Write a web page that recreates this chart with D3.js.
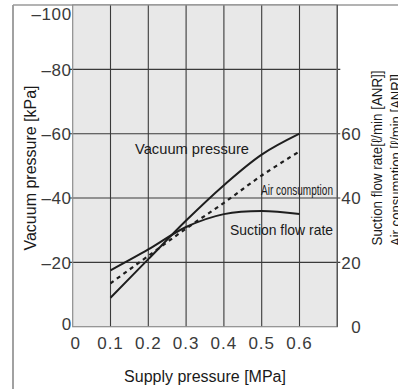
<!DOCTYPE html>
<html>
<head>
<meta charset="utf-8">
<script src="https://cdn.jsdelivr.net/npm/d3@7"></script>
<style>
  body { margin: 0; background: #fff; }
  text { font-family: "Liberation Sans", Arial, Helvetica, sans-serif; }
</style>
</head>
<body>
<div id="chart"></div>
<script>
var WIDTH = 398;
var HEIGHT = 389;

// supply pressure [MPa]
var supply = [0.1, 0.2, 0.3, 0.4, 0.5, 0.6];
// vacuum pressure [kPa] (plotted as negative)
var vacuum = [-9, -21, -33, -44, -53.5, -60];
// suction flow rate [l/min ANR]
var suction = [17.5, 24, 31, 35, 36, 35];
// air consumption [l/min ANR]
var airCons = [13.5, 22, 30.5, 38.5, 47, 54.5];

var xTicks = [0, 0.1, 0.2, 0.3, 0.4, 0.5, 0.6];
var yTicks = [0, -20, -40, -60, -80, -100];
var rightTicks = [0, 20, 40, 60];

var margin = {left: 72.7, right: 60.7, top: 5, bottom: 62.3};

var svg = d3.select("#chart").append("svg")
  .attr("width", WIDTH)
  .attr("height", HEIGHT);

var x = d3.scaleLinear().domain([0, 0.7]).range([margin.left, WIDTH - margin.right]);
var y = d3.scaleLinear().domain([0, -100]).range([HEIGHT - margin.bottom, margin.top]);
// right axis shares the grid lines of the left one
var yR = d3.scaleLinear().domain([0, 100]).range([HEIGHT - margin.bottom, margin.top]);

// outer frame of the figure
svg.append("line").attr("x1", 13).attr("x2", 13).attr("y1", 5).attr("y2", HEIGHT)
  .attr("stroke", "#8a8a8a").attr("stroke-width", 1.6);
svg.append("line").attr("x1", 13).attr("x2", WIDTH).attr("y1", 5).attr("y2", 5)
  .attr("stroke", "#9a9a9a").attr("stroke-width", 1.4);

// plot background
svg.append("rect")
  .attr("x", x(0)).attr("y", y(-100))
  .attr("width", x(0.7) - x(0)).attr("height", y(0) - y(-100))
  .attr("fill", "#e8e8e8");

// grid
svg.append("g").selectAll("line")
  .data(xTicks.slice(1))
  .enter().append("line")
  .attr("x1", d => x(d)).attr("x2", d => x(d))
  .attr("y1", y(-100)).attr("y2", y(0))
  .attr("stroke", "#3a3a3a").attr("stroke-width", 1.1);

svg.append("g").selectAll("line")
  .data(yTicks.slice(1, 5))
  .enter().append("line")
  .attr("x1", x(0) - 3).attr("x2", x(0.7) + 3)
  .attr("y1", d => y(d)).attr("y2", d => y(d))
  .attr("stroke", "#3a3a3a").attr("stroke-width", 1.1);

// plot border
svg.append("rect")
  .attr("x", x(0)).attr("y", y(-100))
  .attr("width", x(0.7) - x(0)).attr("height", y(0) - y(-100))
  .attr("fill", "none").attr("stroke", "#8c8c8c").attr("stroke-width", 1.2);
svg.append("line")
  .attr("x1", x(0.7)).attr("x2", x(0.7)).attr("y1", y(-100)).attr("y2", y(0))
  .attr("stroke", "#555").attr("stroke-width", 1.4);

// left tick labels
svg.append("g").selectAll("text")
  .data(yTicks)
  .enter().append("text")
  .attr("x", x(0) - 1)
  .attr("y", d => y(d))
  .attr("dy", d => d === -100 ? "0.9em" : (d === 0 ? "0.2em" : "0.38em"))
  .attr("text-anchor", "end")
  .attr("font-size", 17)
  .attr("letter-spacing", 0.6)
  .attr("fill", "#3a3a3a")
  .text(d => d === 0 ? "0" : "\u2013" + Math.abs(d));

// right tick labels
svg.append("g").selectAll("text")
  .data(rightTicks)
  .enter().append("text")
  .attr("x", x(0.7) + 24)
  .attr("y", d => yR(d))
  .attr("dy", d => d === 0 ? "0.35em" : "0.38em")
  .attr("text-anchor", "end")
  .attr("font-size", 17)
  .attr("letter-spacing", 0.6)
  .attr("fill", "#3a3a3a")
  .text(d => d);

// x tick labels
svg.append("g").selectAll("text")
  .data(xTicks)
  .enter().append("text")
  .attr("x", d => x(d) + (d === 0 ? 3 : 0))
  .attr("y", 349)
  .attr("text-anchor", "middle")
  .attr("font-size", 17)
  .attr("letter-spacing", 1)
  .attr("fill", "#3a3a3a")
  .text(d => d === 0 ? "0" : d3.format(".1f")(d));

// curves
var line = d3.line().curve(d3.curveCatmullRom.alpha(0.5));

svg.append("path")
  .attr("d", line(supply.map((s, i) => [x(s), y(vacuum[i])])))
  .attr("fill", "none").attr("stroke", "#1e1e1e").attr("stroke-width", 2);

svg.append("path")
  .attr("d", line(supply.map((s, i) => [x(s), yR(suction[i])])))
  .attr("fill", "none").attr("stroke", "#1e1e1e").attr("stroke-width", 2);

svg.append("path")
  .attr("d", line(supply.map((s, i) => [x(s), yR(airCons[i])])))
  .attr("fill", "none").attr("stroke", "#1e1e1e").attr("stroke-width", 2.2)
  .attr("stroke-dasharray", "4,4");

// curve labels
svg.append("text")
  .attr("x", 135).attr("y", 154)
  .attr("font-size", 15).attr("fill", "#1a1a1a")
  .attr("textLength", 114).attr("lengthAdjust", "spacingAndGlyphs")
  .text("Vacuum pressure");

svg.append("text")
  .attr("x", 261).attr("y", 195)
  .attr("font-size", 14).attr("fill", "#1a1a1a")
  .attr("textLength", 72).attr("lengthAdjust", "spacingAndGlyphs")
  .text("Air consumption");

svg.append("text")
  .attr("x", 230).attr("y", 235)
  .attr("font-size", 15).attr("fill", "#1a1a1a")
  .attr("textLength", 103).attr("lengthAdjust", "spacingAndGlyphs")
  .text("Suction flow rate");

// axis titles
svg.append("text")
  .attr("x", 205).attr("y", 382)
  .attr("text-anchor", "middle")
  .attr("font-size", 16).attr("fill", "#1a1a1a")
  .text("Supply pressure [MPa]");

svg.append("text")
  .attr("transform", "translate(36,168) rotate(-90)")
  .attr("text-anchor", "middle")
  .attr("font-size", 16).attr("fill", "#1a1a1a")
  .attr("textLength", 165).attr("lengthAdjust", "spacingAndGlyphs")
  .text("Vacuum pressure [kPa]");

svg.append("text")
  .attr("transform", "translate(382,158) rotate(-90)")
  .attr("text-anchor", "middle")
  .attr("font-size", 15).attr("fill", "#1a1a1a")
  .attr("textLength", 175).attr("lengthAdjust", "spacingAndGlyphs")
  .text("Suction flow rate[\u2113/min [ANR]]");

// this title runs past the right edge in the original figure
svg.append("text")
  .attr("transform", "translate(401,160) rotate(-90)")
  .attr("text-anchor", "middle")
  .attr("font-size", 15).attr("fill", "#1a1a1a")
  .attr("textLength", 172).attr("lengthAdjust", "spacingAndGlyphs")
  .text("Air consumption [\u2113/min [ANR]]");
</script>
</body>
</html>
